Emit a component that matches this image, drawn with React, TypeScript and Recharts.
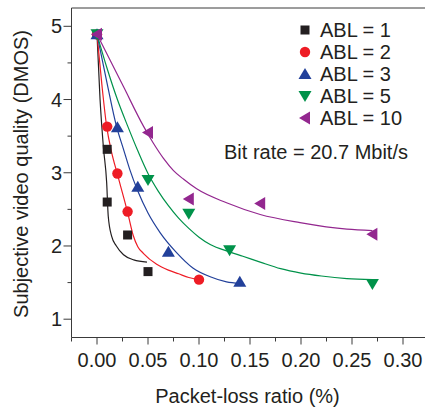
import React from 'react';
import { ComposedChart, Line, Scatter, XAxis, YAxis, ReferenceLine, Legend, Label } from 'recharts';

// measured points (packet-loss ratio %, DMOS)
const abl1X = [0, 0.01, 0.01, 0.03, 0.05];
const abl1Y = [4.89, 3.32, 2.6, 2.15, 1.65];
const abl2X = [0, 0.01, 0.02, 0.03, 0.1];
const abl2Y = [4.89, 3.63, 2.99, 2.47, 1.54];
const abl3X = [0, 0.02, 0.04, 0.07, 0.14];
const abl3Y = [4.89, 3.62, 2.81, 1.92, 1.51];
const abl5X = [0, 0.05, 0.09, 0.13, 0.27];
const abl5Y = [4.89, 2.9, 2.44, 1.94, 1.48];
const abl10X = [0, 0.05, 0.09, 0.16, 0.27];
const abl10Y = [4.89, 3.55, 2.64, 2.58, 2.16];

// fitted curves
const fit1X = [0, 0.003, 0.0062, 0.0095, 0.011, 0.0144, 0.019, 0.026, 0.036, 0.049];
const fit1Y = [4.89, 4.0, 3.36, 2.86, 2.41, 2.13, 2.0, 1.88, 1.81, 1.78];
const fit2X = [0, 0.0048, 0.0095, 0.014, 0.02, 0.026, 0.03, 0.0356, 0.04, 0.0454, 0.0585, 0.07, 0.08, 0.09, 0.1];
const fit2Y = [4.89, 4.2, 3.63, 3.3, 2.98, 2.67, 2.46, 2.14, 1.99, 1.9, 1.75, 1.67, 1.62, 1.57, 1.54];
const fit3X = [0, 0.0102, 0.0192, 0.026, 0.032, 0.04, 0.05, 0.062, 0.078, 0.094, 0.111, 0.127, 0.14];
const fit3Y = [4.89, 4.2, 3.63, 3.32, 3.05, 2.75, 2.45, 2.18, 1.91, 1.7, 1.58, 1.51, 1.49];
const fit5X = [0, 0.01, 0.02, 0.03, 0.04, 0.05, 0.06, 0.07, 0.08, 0.09, 0.1, 0.111, 0.13, 0.143, 0.16, 0.18, 0.2, 0.22, 0.245, 0.27];
const fit5Y = [4.89, 4.42, 4.0, 3.64, 3.3, 2.99, 2.75, 2.55, 2.38, 2.24, 2.12, 2.02, 1.92, 1.86, 1.78, 1.69, 1.63, 1.59, 1.555, 1.54];
const fit10X = [0, 0.0258, 0.0454, 0.055, 0.065, 0.075, 0.085, 0.0977, 0.127, 0.16, 0.199, 0.245, 0.27];
const fit10Y = [4.89, 4.18, 3.64, 3.41, 3.2, 3.03, 2.91, 2.78, 2.59, 2.43, 2.32, 2.23, 2.21];

const xTicks = [-0.025, 0, 0.025, 0.05, 0.075, 0.1, 0.125, 0.15, 0.175, 0.2, 0.225, 0.25, 0.275, 0.3, 0.325];
const xMajor = [0, 0.05, 0.1, 0.15, 0.2, 0.25, 0.3];
const yTicks = [1, 1.5, 2, 2.5, 3, 3.5, 4, 4.5, 5];
const yMajor = [1, 2, 3, 4, 5];

const labels = ['ABL = 1', 'ABL = 2', 'ABL = 3', 'ABL = 5', 'ABL = 10'];
const colors = ['#231f20', '#ee1c25', '#22409a', '#00924a', '#93278f'];
const shapes = ['square', 'circle', 'up', 'down', 'left'];

const toPoints = (xs: number[], ys: number[]) => xs.map((x, i) => ({ x, y: ys[i] }));

const series = [
  { pts: toPoints(abl1X, abl1Y), fit: toPoints(fit1X, fit1Y) },
  { pts: toPoints(abl2X, abl2Y), fit: toPoints(fit2X, fit2Y) },
  { pts: toPoints(abl3X, abl3Y), fit: toPoints(fit3X, fit3Y) },
  { pts: toPoints(abl5X, abl5Y), fit: toPoints(fit5X, fit5Y) },
  { pts: toPoints(abl10X, abl10Y), fit: toPoints(fit10X, fit10Y) },
];

const font = '"Liberation Sans", Arial, sans-serif';
const ink = '#231f20';
const axisColor = '#3a3a3a';

const Marker = ({ kind, cx, cy, color }: any) => {
  if (cx == null || cy == null) return null;
  switch (kind) {
    case 'square':
      return <rect x={cx - 4.5} y={cy - 4.5} width={9} height={9} fill={color} />;
    case 'circle':
      return <circle cx={cx} cy={cy} r={5.2} fill={color} />;
    case 'up':
      return <polygon points={`${cx},${cy - 6} ${cx + 6.5},${cy + 5} ${cx - 6.5},${cy + 5}`} fill={color} />;
    case 'down':
      return <polygon points={`${cx},${cy + 6} ${cx + 6.5},${cy - 5} ${cx - 6.5},${cy - 5}`} fill={color} />;
    default:
      return <polygon points={`${cx - 6},${cy} ${cx + 5},${cy - 6.5} ${cx + 5},${cy + 6.5}`} fill={color} />;
  }
};

const XTick = ({ x, y, payload }: any) => {
  const major = xMajor.includes(payload.value);
  return (
    <g>
      <line x1={x} y1={y} x2={x} y2={y + (major ? 7 : 4)} stroke={axisColor} />
      {major && (
        <text x={x} y={y + 29.5} textAnchor="middle" fontSize={20} fill={ink} fontFamily={font}>
          {payload.value.toFixed(2)}
        </text>
      )}
    </g>
  );
};

const YTick = ({ x, y, payload }: any) => {
  const major = yMajor.includes(payload.value);
  return (
    <g>
      <line x1={x} y1={y} x2={x - (major ? 8 : 4)} y2={y} stroke={axisColor} />
      {major && (
        <text x={x - 9.5} y={y + 7} textAnchor="end" fontSize={20} fill={ink} fontFamily={font}>
          {payload.value}
        </text>
      )}
    </g>
  );
};

const LegendBox = () => (
  <div style={{ position: 'relative', width: 200, height: 150, fontFamily: font, color: ink, fontSize: 20 }}>
    {labels.map((l, i) => (
      <div key={l} style={{ position: 'absolute', left: 77, top: i * 22, height: 22, lineHeight: '22px', display: 'flex', alignItems: 'center' }}>
        <svg width={16} height={16} style={{ marginRight: 7 }}>
          <Marker kind={shapes[i]} cx={8} cy={8} color={colors[i]} />
        </svg>
        <span>{l}</span>
      </div>
    ))}
    <div style={{ position: 'absolute', left: 4, top: 122, lineHeight: '22px', whiteSpace: 'nowrap' }}>Bit rate = 20.7 Mbit/s</div>
  </div>
);

export default function App() {
  return (
    <div style={{ position: 'absolute', left: 0, top: 0, width: 425, height: 408, overflow: 'hidden', background: '#fff' }}>
      <ComposedChart width={440} height={408} margin={{ top: 8, right: 11.5, left: 0, bottom: 0 }}>
        <XAxis
          type="number"
          dataKey="x"
          domain={[-0.025, 0.325]}
          ticks={xTicks}
          interval={0}
          tick={<XTick />}
          tickSize={0}
          tickMargin={0}
          tickLine={false}
          height={70.5}
          stroke={axisColor}
          allowDataOverflow
        >
          <Label
            content={() => (
              <text x={247.5} y={403} textAnchor="middle" fontSize={20} fill={ink} fontFamily={font}>
                Packet-loss ratio (%)
              </text>
            )}
          />
        </XAxis>
        <YAxis
          type="number"
          dataKey="y"
          domain={[0.75, 5.25]}
          ticks={yTicks}
          interval={0}
          tick={<YTick />}
          tickSize={0}
          tickMargin={0}
          tickLine={false}
          width={71.5}
          stroke={axisColor}
          allowDataOverflow
        >
          <Label
            content={() => (
              <text x={28} y={174} transform="rotate(-90, 28, 174)" textAnchor="middle" fontSize={20} fill={ink} fontFamily={font}>
                Subjective video quality (DMOS)
              </text>
            )}
          />
        </YAxis>
        <ReferenceLine y={5.25} stroke={axisColor} ifOverflow="extendDomain" />
        {series.map((s, i) => (
          <Line
            key={`fit${i}`}
            data={s.fit}
            dataKey="y"
            type="monotone"
            stroke={colors[i]}
            strokeWidth={1.2}
            dot={false}
            activeDot={false}
            isAnimationActive={false}
            legendType="none"
          />
        ))}
        {series.map((s, i) => (
          <Scatter
            key={`pts${i}`}
            name={labels[i]}
            data={s.pts}
            fill={colors[i]}
            shape={(p: any) => <Marker kind={shapes[i]} cx={p.cx} cy={p.cy} color={colors[i]} />}
            isAnimationActive={false}
          />
        ))}
        <Legend
          layout="horizontal"
          verticalAlign="middle"
          align="center"
          content={<LegendBox />}
          wrapperStyle={{ position: 'absolute', left: 220, top: 19, width: 200 }}
        />
      </ComposedChart>
    </div>
  );
}
